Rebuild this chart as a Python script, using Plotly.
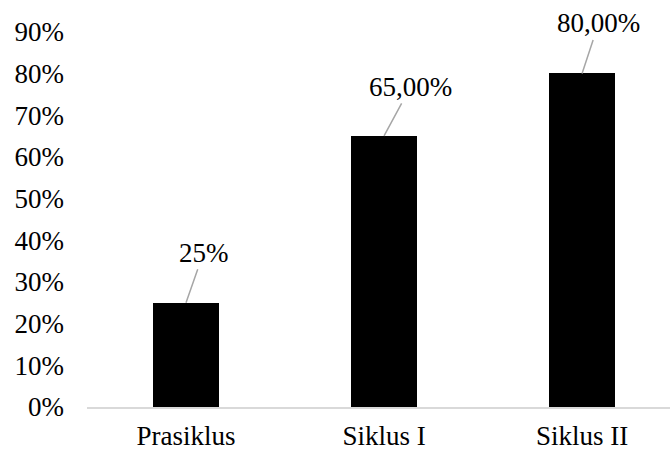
import plotly.graph_objects as go

categories = ["Prasiklus", "Siklus I", "Siklus II"]
values = [0.25, 0.65, 0.80]
value_labels = ["25%", "65,00%", "80,00%"]
tick_vals = [0, 0.1, 0.2, 0.3, 0.4, 0.5, 0.6, 0.7, 0.8, 0.9, 1.0]
tick_text = ["0%", "10%", "20%", "30%", "40%", "50%", "60%", "70%", "80%", "90%", "100%"]

label_offsets = [(17.5, -50), (26.5, -49), (16.5, -50)]

FONT = "Liberation Serif, Times New Roman, serif"

fig = go.Figure()
fig.add_trace(go.Bar(
    x=list(range(len(categories))), y=values,
    marker=dict(color="black", line=dict(width=0)),
    width=0.334, showlegend=False,
))

for i, (v, t) in enumerate(zip(values, value_labels)):
    ax, ay = label_offsets[i]
    fig.add_annotation(
        x=i, y=v, xref="x", yref="y", text=t,
        showarrow=True, arrowhead=0, arrowwidth=1.5, arrowcolor="#a6a6a6",
        ax=ax, ay=ay, font=dict(family=FONT, size=27, color="black"),
    )

fig.update_layout(
    width=670, height=451,
    margin=dict(l=87, r=0, t=0, b=44),
    paper_bgcolor="white", plot_bgcolor="white",
    font=dict(family=FONT, size=27, color="black"),
    bargap=0,
)
fig.update_xaxes(
    range=[-0.5, 2.444], automargin=False,
    tickmode="array", tickvals=list(range(len(categories))), ticktext=categories,
    showgrid=False, zeroline=False,
    showline=True, linecolor="#d9d9d9", linewidth=2,
    ticks="", tickfont=dict(family=FONT, size=27, color="black"),
    ticklabelstandoff=4,
)
fig.update_yaxes(
    range=[0, 0.976], automargin=False,
    tickmode="array", tickvals=tick_vals, ticktext=tick_text,
    showgrid=False, zeroline=False, showline=False,
    ticks="", tickfont=dict(family=FONT, size=27, color="black"),
    ticklabelstandoff=22,
)

fig.write_html("out.html")
